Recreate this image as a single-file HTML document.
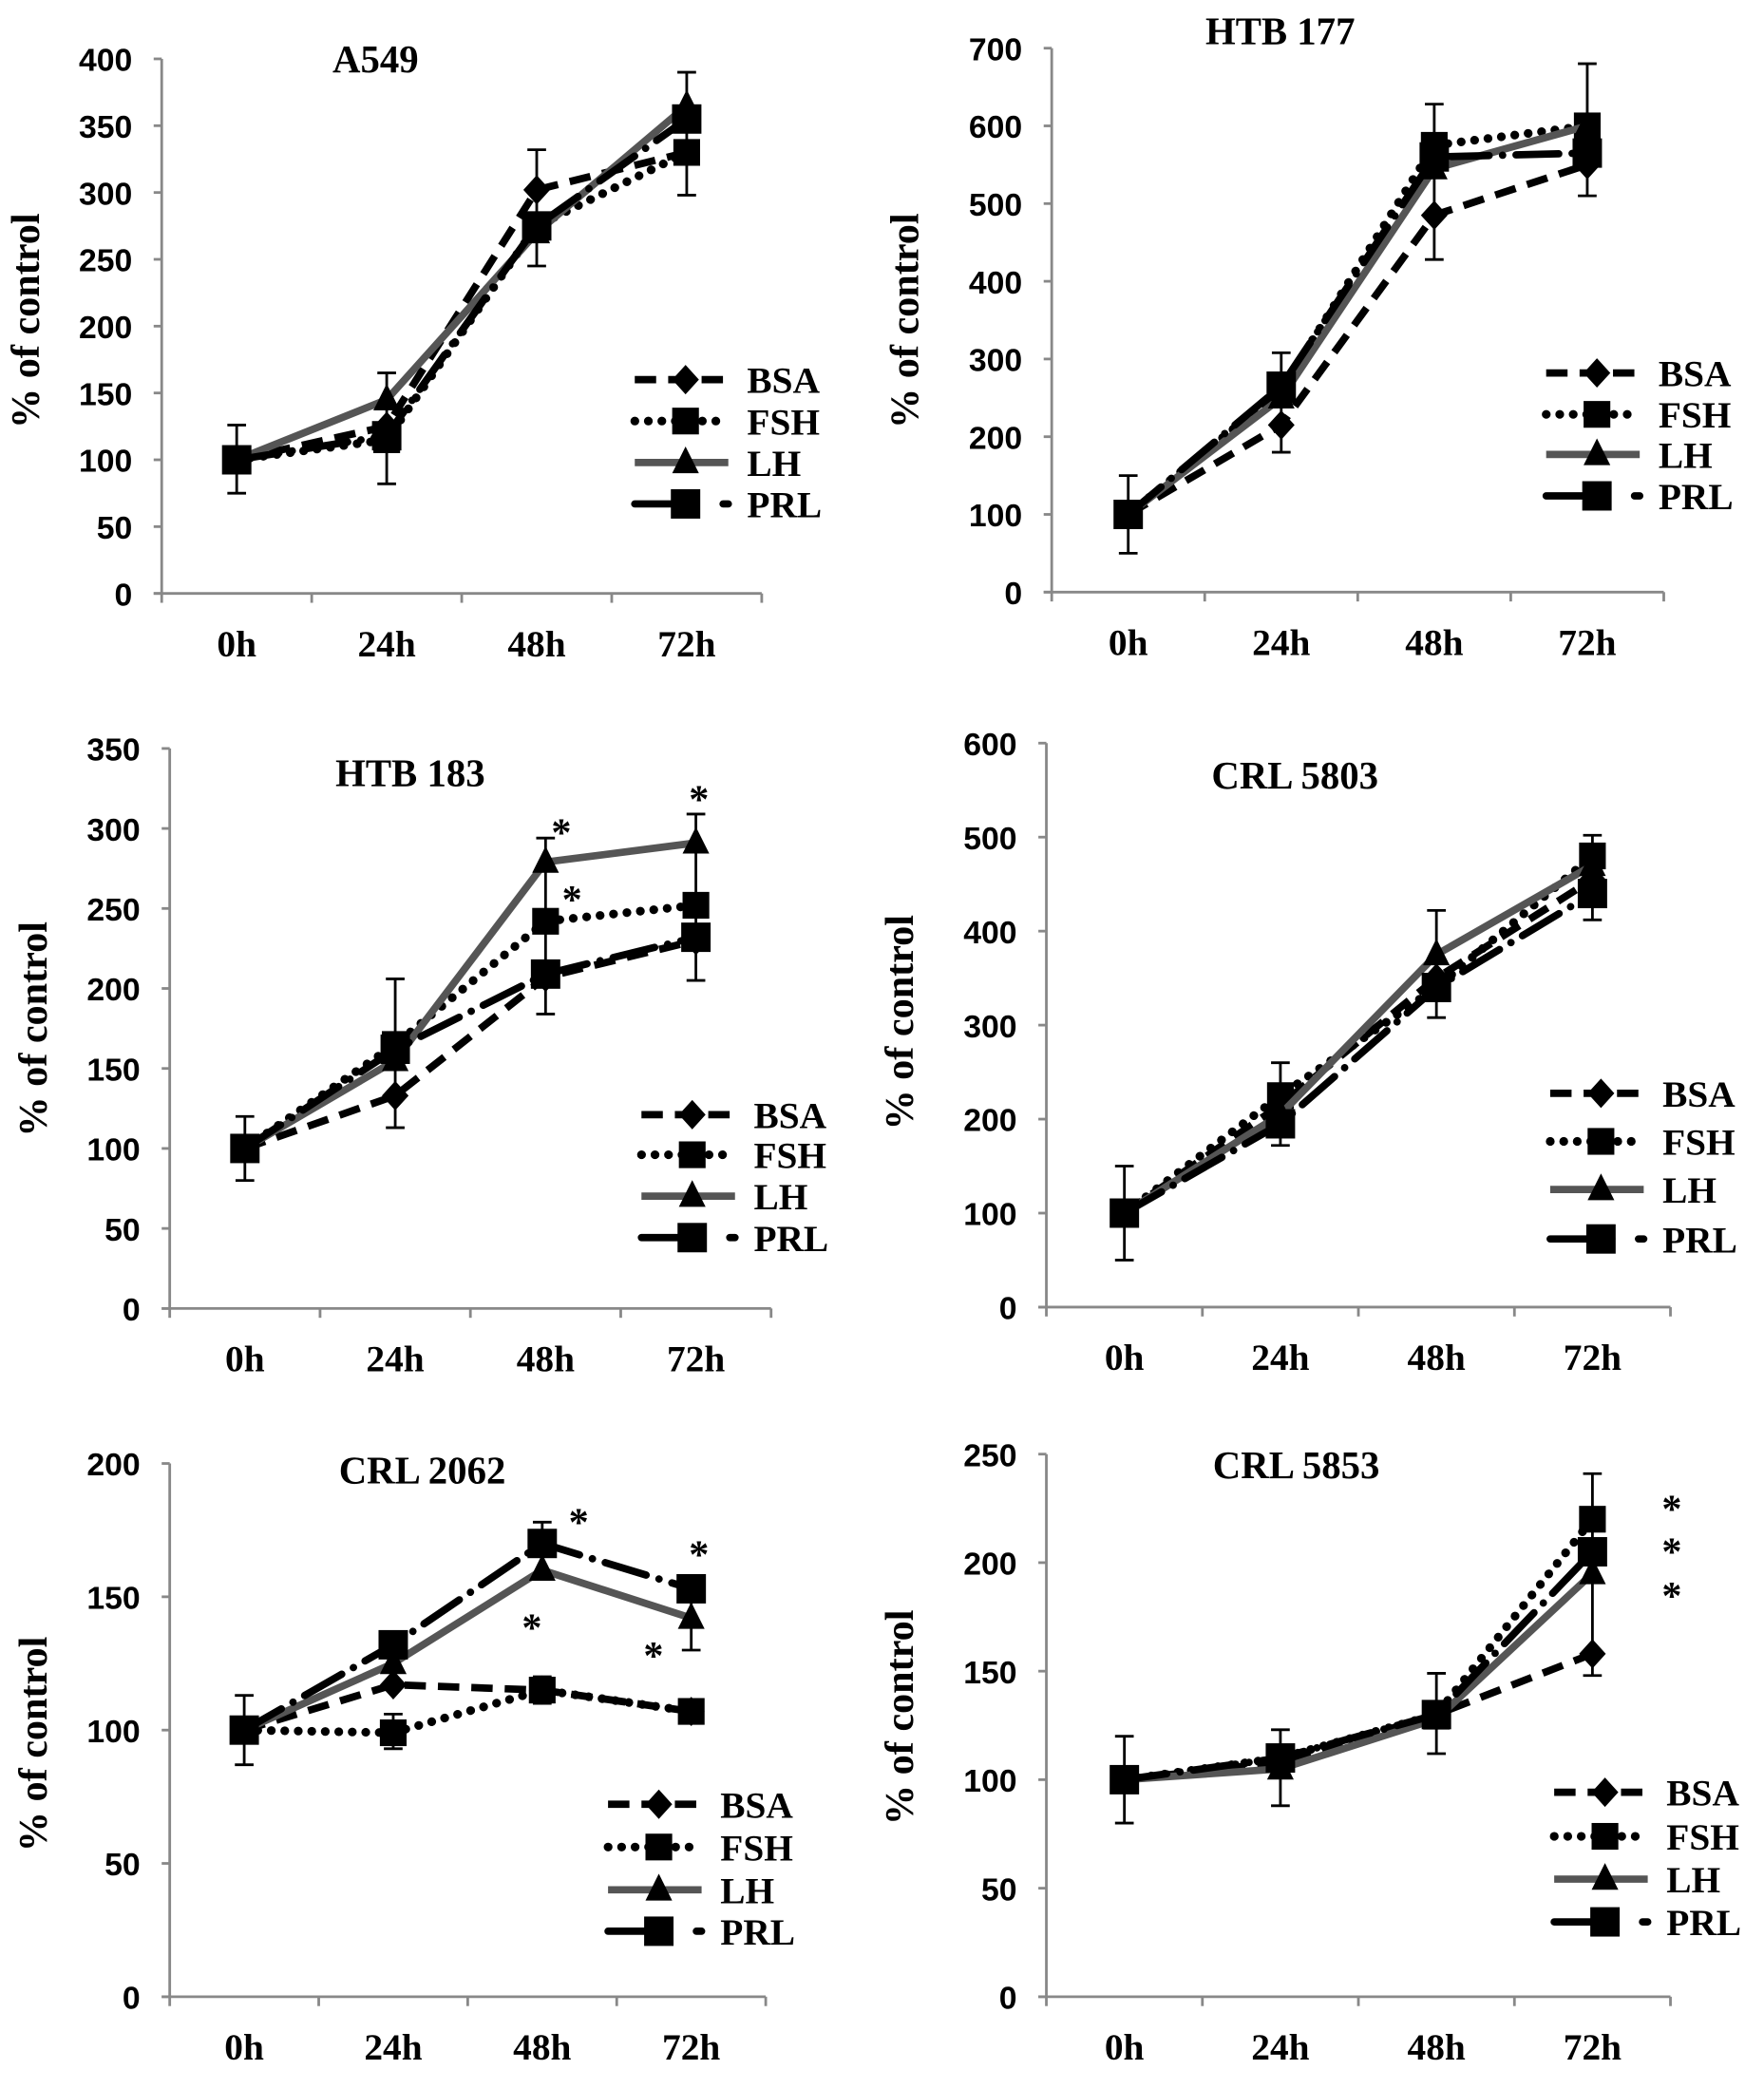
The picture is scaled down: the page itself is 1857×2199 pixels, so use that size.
<!DOCTYPE html>
<html><head><meta charset="utf-8"><style>
html,body{margin:0;padding:0;background:#fff;}
svg{display:block;}
.tk{font-family:"Liberation Sans",sans-serif;font-weight:bold;font-size:24px;fill:#000;}
.cat{font-family:"Liberation Serif",serif;font-weight:bold;font-size:28px;fill:#000;}
.ttl{font-family:"Liberation Serif",serif;font-weight:bold;font-size:29px;fill:#000;}
.yl{font-family:"Liberation Serif",serif;font-weight:bold;font-size:30px;fill:#000;}
.lg{font-family:"Liberation Serif",serif;font-weight:bold;font-size:28px;fill:#000;}
.st{font-family:"Liberation Serif",serif;font-weight:bold;font-size:30px;fill:#000;}
</style></head><body>
<svg id="fig" width="1857" height="2199" viewBox="0 0 1320 1563" xmlns="http://www.w3.org/2000/svg"></svg>
<script>
const categories = ["0h","24h","48h","72h"];
const seriesNames = ["BSA","FSH","LH","PRL"];
// A549
const a549Max = 400, a549Step = 50;
const a549BSA = [100,125,302,330];
const a549FSH = [100,115,275,330];
const a549LH  = [100,145,270,365];
const a549PRL = [100,118,275,355];
const a549ErrLo = [75,82,245,298];
const a549ErrHi = [126,165,332,390];
// HTB 177
const htb177Max = 700, htb177Step = 100;
const htb177BSA = [100,215,485,550];
const htb177FSH = [100,260,575,600];
const htb177LH  = [100,250,545,600];
const htb177PRL = [100,265,560,565];
const htb177ErrLo = [50,180,428,510];
const htb177ErrHi = [150,308,628,680];
// HTB 183
const htb183Max = 350, htb183Step = 50;
const htb183BSA = [100,133,207,230];
const htb183FSH = [100,165,242,252];
const htb183LH  = [100,155,279,291];
const htb183PRL = [100,162,209,232];
const htb183ErrLo = [80,113,184,205];
const htb183ErrHi = [120,206,294,309];
// CRL 5803
const crl5803Max = 600, crl5803Step = 100;
const crl5803BSA = [100,215,350,455];
const crl5803FSH = [100,225,340,480];
const crl5803LH  = [100,205,375,470];
const crl5803PRL = [100,195,340,440];
const crl5803ErrLo = [50,172,308,412];
const crl5803ErrHi = [150,260,422,502];
// CRL 2062
const crl2062Max = 200, crl2062Step = 50;
const crl2062BSA = [100,117,115,107];
const crl2062FSH = [100,99,115,107];
const crl2062LH  = [100,125,160,142];
const crl2062PRL = [100,132,170,153];
const crl2062ErrLo = [87,93,110,130];
const crl2062ErrHi = [113,106,120,155];
// CRL 5853
const crl5853Max = 250, crl5853Step = 50;
const crl5853BSA = [100,108,130,158];
const crl5853FSH = [100,110,130,220];
const crl5853LH  = [100,105,128,195];
const crl5853PRL = [100,110,130,205];
const crl5853ErrLo = [80,88,112,148];
const crl5853ErrHi = [120,123,149,241];

const NS="http://www.w3.org/2000/svg";
const svg=document.getElementById('fig');
function mk(tag,attrs,parent,text){const e=document.createElementNS(NS,tag);for(const k in attrs)e.setAttribute(k,attrs[k]);if(text!==undefined)e.textContent=text;(parent||svg).appendChild(e);return e;}

const styles={
 BSA:{stroke:"#000",dash:"16,9",w:5.5,marker:"diamond",cap:"butt"},
 FSH:{stroke:"#000",dash:"0.1,10",w:6.5,marker:"square",cap:"round"},
 LH:{stroke:"#555",dash:"",w:5.5,marker:"triangle",cap:"butt"},
 PRL:{stroke:"#000",dash:"32,10,0.1,10",w:5.5,marker:"squareBig",cap:"round"}
};
function marker(g,type,x,y,name){
  let e;
  if(type==="diamond") e=mk('polygon',{points:`${x},${y-11} ${x+10},${y} ${x},${y+11} ${x-10},${y}`,fill:"#000"},g);
  else if(type==="square") e=mk('rect',{x:x-10,y:y-10,width:20,height:20,fill:"#000"},g);
  else if(type==="squareBig") e=mk('rect',{x:x-11,y:y-11,width:22,height:22,fill:"#000"},g);
  else e=mk('polygon',{points:`${x},${y-12} ${x+10},${y+8} ${x-10},${y+8}`,fill:"#000"},g);
  
  
}

const panels=[
 {id:"a549",title:"A549",tx:281,ty:54,ax:121,xe:570,y0:444,yt:44,max:a549Max,step:a549Step,cx:[177,289,401,514],
  s:[a549BSA,a549FSH,a549LH,a549PRL],lo:a549ErrLo,hi:a549ErrHi,lgx:475,lgy:[284,315,346,377],stars:[],ylc:240},
 {id:"htb177",title:"HTB 177",tx:958,ty:33,ax:787,xe:1245,y0:443,yt:36,max:htb177Max,step:htb177Step,cx:[848,969,1090,1210],
  s:[htb177BSA,htb177FSH,htb177LH,htb177PRL],lo:htb177ErrLo,hi:htb177ErrHi,lgx:1157,lgy:[279,310,340,371],stars:[],ylc:240},
 {id:"htb183",title:"HTB 183",tx:307,ty:588,ax:127,xe:577,y0:979,yt:560,max:htb183Max,step:htb183Step,cx:[183,295,408,521],
  s:[htb183BSA,htb183FSH,htb183LH,htb183PRL],lo:htb183ErrLo,hi:htb183ErrHi,lgx:480,lgy:[834,864,895,926],stars:[[420,622],[428,672],[523,597]],ylc:770},
 {id:"crl5803",title:"CRL 5803",tx:969,ty:590,ax:783,xe:1250,y0:978,yt:556,max:crl5803Max,step:crl5803Step,cx:[843,968,1093,1218],
  s:[crl5803BSA,crl5803FSH,crl5803LH,crl5803PRL],lo:crl5803ErrLo,hi:crl5803ErrHi,lgx:1160,lgy:[818,854,890,927],stars:[],ylc:765},
 {id:"crl2062",title:"CRL 2062",tx:316,ty:1110,ax:127,xe:573,y0:1494,yt:1095,max:crl2062Max,step:crl2062Step,cx:[183,295,406,518],
  s:[crl2062BSA,crl2062FSH,crl2062LH,crl2062PRL],lo:crl2062ErrLo,hi:crl2062ErrHi,lgx:455,lgy:[1350,1382,1414,1445],stars:[[433,1138],[398,1217],[523,1162],[489,1238]],ylc:1305,extra:[[2,166,178]]},
 {id:"crl5853",title:"CRL 5853",tx:970,ty:1106,ax:783,xe:1250,y0:1494,yt:1088,max:crl5853Max,step:crl5853Step,cx:[845,968,1093,1216],
  s:[crl5853BSA,crl5853FSH,crl5853LH,crl5853PRL],lo:crl5853ErrLo,hi:crl5853ErrHi,lgx:1163,lgy:[1341,1374,1406,1438],stars:[[1251,1128],[1251,1160],[1251,1193]],ylc:1285}
];

panels.forEach(p=>{
  const g=mk('g',{});
  
  
  const Y=v=>p.y0-(v/p.max)*(p.y0-p.yt);
  const ya=mk('line',{x1:p.ax,y1:p.yt,x2:p.ax,y2:p.y0,stroke:"#888","stroke-width":2},g);
  
  
  const xa=mk('line',{x1:p.ax-6,y1:p.y0,x2:p.xe,y2:p.y0,stroke:"#888","stroke-width":2},g);
  
  
  for(let v=0;v<=p.max;v+=p.step){
    mk('line',{x1:p.ax-6,y1:Y(v),x2:p.ax,y2:Y(v),stroke:"#888","stroke-width":2},g);
    const t=mk('text',{x:p.ax-22,y:Y(v)+9,"text-anchor":"end",class:"tk"},g,String(v));
    
    
  }
  const n=categories.length, bw=(p.xe-p.ax)/n;
  for(let i=0;i<=n;i++) mk('line',{x1:p.ax+i*bw,y1:p.y0,x2:p.ax+i*bw,y2:p.y0+7,stroke:"#888","stroke-width":2},g);
  categories.forEach((c,i)=>{
    const t=mk('text',{x:p.ax+bw*(i+0.5),y:p.y0+47,"text-anchor":"middle",class:"cat"},g,c);
    
    
  });
  const yl=mk('text',{x:0,y:0,"text-anchor":"middle",class:"yl",transform:`translate(${p.ax-(p.ax<200?92:100)},${p.ylc}) rotate(-90)`},g,"% of control");
  
  
  const tt=mk('text',{x:p.tx,y:p.ty,"text-anchor":"middle",class:"ttl"},g,p.title);
  
  
  const bars=categories.map((c,i)=>[i,p.lo[i],p.hi[i]]).concat(p.extra||[]);
  bars.forEach(b=>{
    const x=p.ax+bw*(b[0]+0.5);
    const eb=mk('path',{d:`M${x},${Y(b[1])}V${Y(b[2])}M${x-7},${Y(b[1])}h14M${x-7},${Y(b[2])}h14`,stroke:"#000","stroke-width":2,fill:"none"},g);
    
    
  });
  seriesNames.forEach((sn,k)=>{
    const st=styles[sn], vals=p.s[k];
    const pts=vals.map((v,i)=>`${p.ax+bw*(i+0.5)},${Y(v)}`).join(' ');
    const pl=mk('polyline',{points:pts,fill:"none",stroke:st.stroke,"stroke-width":st.w,"stroke-dasharray":st.dash,"stroke-linecap":st.cap,"stroke-linejoin":"round"},g);
    
    
    vals.forEach((v,i)=>marker(g,st.marker,p.ax+bw*(i+0.5),Y(v),'point-'+sn.toLowerCase()));
    const ly=p.lgy[k];
    const lgg=mk('g',{},g);
    
    
    mk('line',{x1:p.lgx,y1:ly,x2:p.lgx+70,y2:ly,stroke:st.stroke,"stroke-width":st.w,"stroke-dasharray":sn==="PRL"?"32,14,0.1,20":st.dash,"stroke-linecap":st.cap},lgg);
    marker(lgg,st.marker,p.lgx+38,ly,'legend-marker');
    mk('text',{x:p.lgx+84,y:ly+10,class:"lg"},lgg,sn);
  });
  p.stars.forEach(s=>{
    const t=mk('text',{x:s[0],y:s[1]+11,"text-anchor":"middle",class:"st"},g,"*");
    
    
  });
});
</script>
</body></html>
